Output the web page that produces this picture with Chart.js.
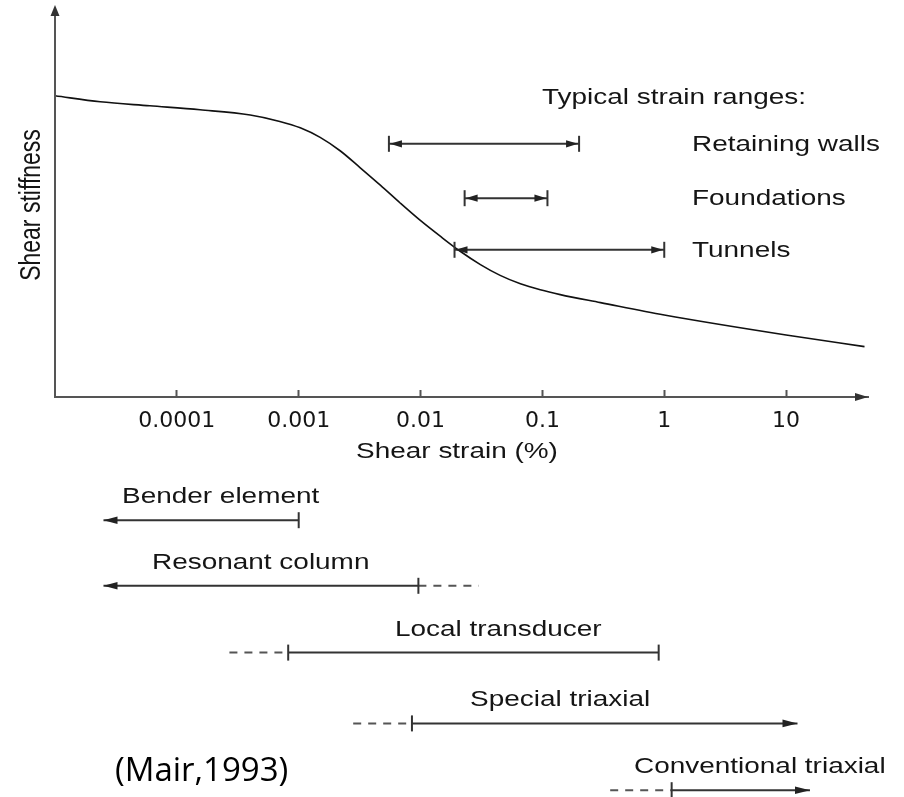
<!DOCTYPE html>
<html>
<head>
<meta charset="utf-8">
<script src="https://cdn.jsdelivr.net/npm/chart.js@4.4.1/dist/chart.umd.min.js"></script>
<style>
  html, body { margin: 0; padding: 0; background: #fff; }
  #wrap { width: 904px; height: 797px; }
</style>
</head>
<body>
<div id="wrap"><canvas id="chart" width="904" height="797"></canvas></div>
<script>
// stiffness degradation curve (x = shear strain %, y = arbitrary stiffness units)
const curveStrain = [1e-5, 2.35e-5, 6.0e-5, 1.55e-4, 4.0e-4, 7.0e-4, 1.03e-3, 1.5e-3, 2.2e-3, 3.2e-3,
  4.7e-3, 6.8e-3, 9.9e-3, 0.0145, 0.021, 0.031, 0.045, 0.066, 0.096, 0.14, 0.3, 1.0, 10, 44]
const curveStiffness = [75.3, 73.8, 72.8, 71.8, 70.5, 68.9, 67.3, 64.9, 61.5, 57.3,
  52.9, 48.5, 44.2, 40.2, 36.5, 33.1, 30.4, 28.3, 26.8, 25.6, 23.6, 20.5, 15.5, 12.6]

const tickValues = [0.0001, 0.001, 0.01, 0.1, 1, 10]
const tickLabels = ['0.0001', '0.001', '0.01', '0.1', '1', '10']

// typical strain ranges
const rangeNames = ['Retaining walls', 'Foundations', 'Tunnels']
const rangeFrom = [0.0055, 0.023, 0.019]
const rangeTo = [0.2, 0.11, 1.0]

// test methods: solid part, dashed extension, open (arrow) ends
const testNames = ['Bender element', 'Resonant column', 'Local transducer', 'Special triaxial', 'Conventional triaxial']
const testFrom = [2.5e-5, 2.5e-5, 0.00082, 0.0085, 1.15]
const testTo = [0.001, 0.0096, 0.9, 12.4, 15.7]
const dashFrom = [null, 0.0096, 0.00027, 0.0028, 0.36]
const dashTo = [null, 0.03, 0.00082, 0.0085, 1.15]
const arrowLeft = [true, true, false, false, false]
const arrowRight = [false, false, false, true, true]

// rows (stiffness units; the strain axis sits at 0, tests are drawn below it)
const rangeRows = [63.3, 49.7, 36.8]
const testRows = [-30.8, -47.2, -63.9, -81.6, -98.3]
const testLabelX = [122, 152, 395, 470, 634]

const INK = '#151515'
const LINE = '#333'
const AXIS = '#555'
const STRETCH = 1.27
const TXT = '22px "Liberation Sans", Arial, sans-serif'

const datasets = []
datasets.push({
  data: curveStrain.map((s, i) => ({ x: s, y: curveStiffness[i] })),
  borderColor: '#111', borderWidth: 1.6, pointRadius: 0,
  tension: 0.4, cubicInterpolationMode: 'monotone'
})
rangeNames.forEach((n, i) => {
  datasets.push({
    data: [{ x: rangeFrom[i], y: rangeRows[i] }, { x: rangeTo[i], y: rangeRows[i] }],
    borderColor: LINE, borderWidth: 2, pointRadius: 0
  })
})
testNames.forEach((n, i) => {
  datasets.push({
    data: [{ x: testFrom[i], y: testRows[i] }, { x: testTo[i], y: testRows[i] }],
    borderColor: LINE, borderWidth: 2, pointRadius: 0
  })
  if (dashFrom[i] !== null) {
    datasets.push({
      data: [{ x: dashFrom[i], y: testRows[i] }, { x: dashTo[i], y: testRows[i] }],
      borderColor: '#555', borderWidth: 2, borderDash: [8, 7], pointRadius: 0
    })
  }
})

function head(ctx, tx, ty, dir, len, half, color) {
  // dir: 1 right, -1 left
  ctx.fillStyle = color
  ctx.beginPath()
  ctx.moveTo(tx, ty)
  ctx.lineTo(tx - dir * len, ty - half)
  ctx.lineTo(tx - dir * len, ty + half)
  ctx.closePath()
  ctx.fill()
}

function cap(ctx, px, py, h) {
  ctx.beginPath()
  ctx.moveTo(px, py - h)
  ctx.lineTo(px, py + h)
  ctx.stroke()
}

function text(ctx, str, px, py, align) {
  ctx.save()
  ctx.translate(px, py)
  ctx.scale(STRETCH, 1)
  ctx.textAlign = align || 'left'
  ctx.fillText(str, 0, 0)
  ctx.restore()
}

const figure = {
  id: 'figure',
  afterDatasetsDraw(chart) {
    const { ctx, chartArea } = chart
    const x = chart.scales.x, y = chart.scales.y
    const y0 = y.getPixelForValue(0)
    ctx.save()
    ctx.strokeStyle = AXIS
    ctx.lineWidth = 2
    // y axis + arrows
    ctx.beginPath()
    ctx.moveTo(chartArea.left, y0 + 1)
    ctx.lineTo(chartArea.left, chartArea.top + 8)
    ctx.stroke()
    ctx.fillStyle = '#333'
    ctx.beginPath()
    ctx.moveTo(chartArea.left, chartArea.top)
    ctx.lineTo(chartArea.left - 4.5, chartArea.top + 11)
    ctx.lineTo(chartArea.left + 4.5, chartArea.top + 11)
    ctx.closePath()
    ctx.fill()
    head(ctx, chartArea.right, y0, 1, 13, 4, '#333')

    ctx.strokeStyle = LINE
    rangeNames.forEach((n, i) => {
      const py = y.getPixelForValue(rangeRows[i])
      const xa = x.getPixelForValue(rangeFrom[i])
      const xb = x.getPixelForValue(rangeTo[i])
      cap(ctx, xa, py, 8)
      cap(ctx, xb, py, 8)
      head(ctx, xa + 1, py, -1, 12, 3.6, '#222')
      head(ctx, xb - 1, py, 1, 12, 3.6, '#222')
    })
    testNames.forEach((n, i) => {
      const py = y.getPixelForValue(testRows[i])
      const xa = x.getPixelForValue(testFrom[i])
      const xb = x.getPixelForValue(testTo[i])
      if (arrowLeft[i]) head(ctx, xa, py, -1, 14, 3.8, '#222')
      else cap(ctx, xa, py, 8)
      if (arrowRight[i]) head(ctx, xb, py, 1, 15, 3.8, '#222')
      else cap(ctx, xb, py, 8)
    })
    ctx.restore()
  },
  afterDraw(chart) {
    const { ctx } = chart
    const y = chart.scales.y
    ctx.save()
    ctx.fillStyle = INK
    ctx.font = TXT
    ctx.textBaseline = 'alphabetic'
    text(ctx, 'Typical strain ranges:', 542, 104)
    rangeNames.forEach((n, i) => text(ctx, n, 692, y.getPixelForValue(rangeRows[i]) + 7))
    testNames.forEach((n, i) => text(ctx, n, testLabelX[i], y.getPixelForValue(testRows[i]) - 17))
    text(ctx, 'Shear strain (%)', 457, 458, 'center')
    // rotated y title
    ctx.save()
    ctx.translate(40, 205)
    ctx.scale(STRETCH, 1)
    ctx.rotate(-Math.PI / 2)
    ctx.font = '23px "Liberation Sans", Arial, sans-serif'
    ctx.textAlign = 'center'
    ctx.fillText('Shear stiffness', 0, 0)
    ctx.restore()
    // source note
    ctx.fillStyle = '#000'
    ctx.font = '33px "Open Sans", sans-serif'
    ctx.textAlign = 'left'
    ctx.fillText('(Mair,1993)', 115, 781)
    ctx.restore()
  }
}

new Chart(document.getElementById('chart'), {
  type: 'line',
  data: { datasets },
  options: {
    responsive: false,
    animation: false,
    layout: { padding: { left: 55, right: 36, top: 5, bottom: 0 } },
    scales: {
      x: {
        type: 'logarithmic',
        min: 1e-5,
        max: 47,
        position: { y: 0 },
        border: { display: true, color: AXIS, width: 2 },
        grid: { drawOnChartArea: false, drawTicks: true, tickLength: -8, tickWidth: 2, tickColor: AXIS },
        afterBuildTicks: (scale) => { scale.ticks = tickValues.map(v => ({ value: v })) },
        ticks: {
          autoSkip: false, maxRotation: 0, padding: 19,
          color: INK,
          font: { family: '"DejaVu Sans"', size: 22 },
          callback: (v, i) => tickLabels[i]
        }
      },
      y: { type: 'linear', min: -100, max: 98, display: false }
    },
    plugins: {
      legend: { display: false },
      tooltip: { enabled: false }
    }
  },
  plugins: [figure]
})
</script>
</body>
</html>
